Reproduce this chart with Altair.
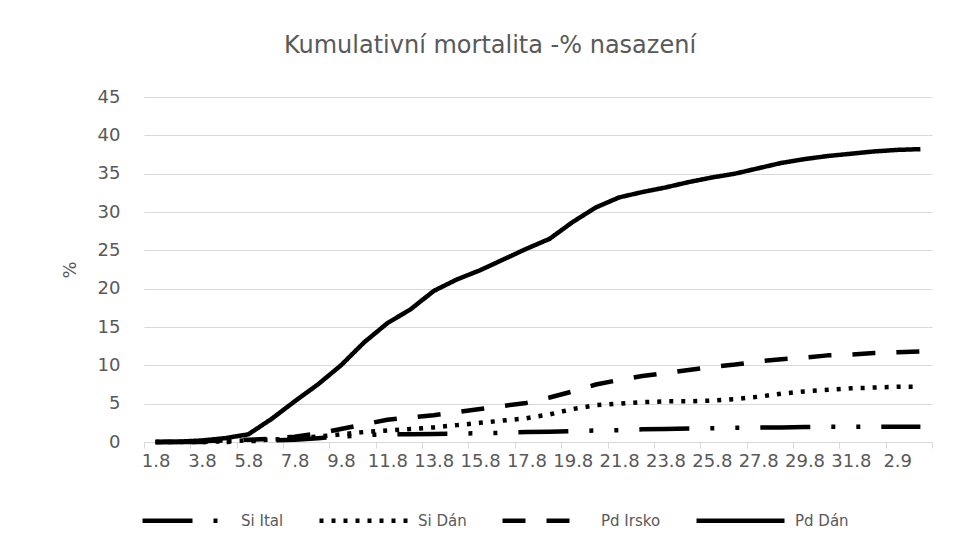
import altair as alt
import pandas as pd

categories = ["1.8", "2.8", "3.8", "4.8", "5.8", "6.8", "7.8", "8.8", "9.8", "10.8",
              "11.8", "12.8", "13.8", "14.8", "15.8", "16.8", "17.8", "18.8", "19.8", "20.8",
              "21.8", "22.8", "23.8", "24.8", "25.8", "26.8", "27.8", "28.8", "29.8", "30.8",
              "31.8", "1.9", "2.9", "3.9"]

series_names = ["Si Ital", "Si Dán", "Pd Irsko", "Pd Dán"]

si_ital = [0.0, 0.0, 0.0, 0.0, 0.1, 0.2, 0.3, 0.5, 0.7, 0.9,
           1.0, 1.0, 1.05, 1.1, 1.15, 1.2, 1.3, 1.35, 1.4, 1.5,
           1.55, 1.65, 1.7, 1.75, 1.8, 1.85, 1.9, 1.9, 1.95, 2.0,
           2.0, 2.0, 2.0, 2.0]
si_dan = [0.0, 0.0, 0.0, 0.1, 0.2, 0.3, 0.5, 0.7, 1.0, 1.3,
          1.5, 1.7, 1.9, 2.2, 2.5, 2.8, 3.1, 3.6, 4.3, 4.8,
          5.0, 5.2, 5.3, 5.3, 5.4, 5.6, 5.9, 6.3, 6.6, 6.8,
          7.0, 7.1, 7.2, 7.2]
pd_irsko = [0.0, 0.0, 0.1, 0.2, 0.3, 0.4, 0.7, 1.1, 1.7, 2.3,
            2.9, 3.2, 3.5, 3.9, 4.3, 4.7, 5.1, 5.8, 6.6, 7.5,
            8.1, 8.6, 9.0, 9.4, 9.8, 10.1, 10.5, 10.8, 11.0, 11.3,
            11.4, 11.6, 11.7, 11.8]
pd_dan = [0.0, 0.05, 0.2, 0.5, 1.0, 3.0, 5.3, 7.5, 10.0, 13.0,
          15.5, 17.3, 19.7, 21.2, 22.4, 23.8, 25.2, 26.5, 28.7, 30.6,
          31.9, 32.6, 33.2, 33.9, 34.5, 35.0, 35.7, 36.4, 36.9, 37.3,
          37.6, 37.9, 38.1, 38.2]

y_ticks = [0, 5, 10, 15, 20, 25, 30, 35, 40, 45]

dash_patterns = [[50, 21, 4, 21, 4, 21], [4, 8], [23, 21], [1, 0]]

rows = []
for name, vals in zip(series_names, [si_ital, si_dan, pd_irsko, pd_dan]):
    for i, (c, v) in enumerate(zip(categories, vals)):
        rows.append({"idx": i, "cat": c, "series": name, "value": v})
df = pd.DataFrame(rows)

n = len(categories)
tick_vals = [i - 0.5 for i in range(0, n + 1, 2)]
label_vals = list(range(0, n, 2))
axis_vals = sorted(tick_vals + label_vals)
label_js = "[" + ",".join("'" + c + "'" for c in categories) + "]"
label_expr = "datum.value % 1 == 0 ? " + label_js + "[datum.value] : ''"

GRAY = "#595959"
FONT = "DejaVu Sans"

x = alt.X(
    "idx:Q",
    scale=alt.Scale(domain=[-0.5, n - 0.5], nice=False, zero=False),
    axis=alt.Axis(
        values=axis_vals, labelExpr=label_expr, title=None, grid=False,
        tickOpacity={"condition": {"test": "datum.value % 1 != 0", "value": 1}, "value": 0},
        tickColor="#d9d9d9", tickSize=6, tickWidth=1,
        domainColor="#d9d9d9", domainWidth=1,
        labelColor=GRAY, labelFont=FONT, labelFontSize=18,
        labelOverlap=False, labelFlush=False, labelBound=False, labelPadding=4,
    ),
)

y = alt.Y(
    "value:Q",
    scale=alt.Scale(domain=[0, 45], nice=False),
    axis=alt.Axis(
        values=y_ticks, title="%", titleFont=FONT, titleFontSize=18,
        titleFontWeight="normal", titleColor=GRAY, titlePadding=18,
        labelColor=GRAY, labelFont=FONT, labelFontSize=18, labelPadding=24,
        ticks=False, domain=False, gridColor="#d9d9d9", gridWidth=1,
    ),
)

dash = alt.StrokeDash(
    "series:N",
    scale=alt.Scale(domain=series_names, range=dash_patterns),
    legend=alt.Legend(
        orient="none", legendX=-4, legendY=377, direction="horizontal", title=None,
        symbolType="stroke", symbolSize=7744, symbolStrokeWidth=4.5,
        symbolStrokeColor="black", labelFont=FONT, labelFontSize=15,
        labelColor=GRAY, labelOffset=8, columnPadding=26, labelLimit=0,
    ),
)

chart = (
    alt.Chart(df)
    .mark_line(color="black", strokeWidth=4.5, strokeJoin="round")
    .encode(x=x, y=y, strokeDash=dash)
    .properties(
        width=788, height=345, autosize="none",
        padding={"left": 136, "top": 89, "right": 21, "bottom": 97},
        title=alt.TitleParams(
            "Kumulativní mortalita -% nasazení", font=FONT, fontSize=24,
            fontWeight="normal", color=GRAY, anchor="middle", dx=-48, offset=30,
        ),
        background="white",
    )
    .configure_view(stroke=None)
)

chart.save("out.html", embed_options={"renderer": "svg", "actions": False})
